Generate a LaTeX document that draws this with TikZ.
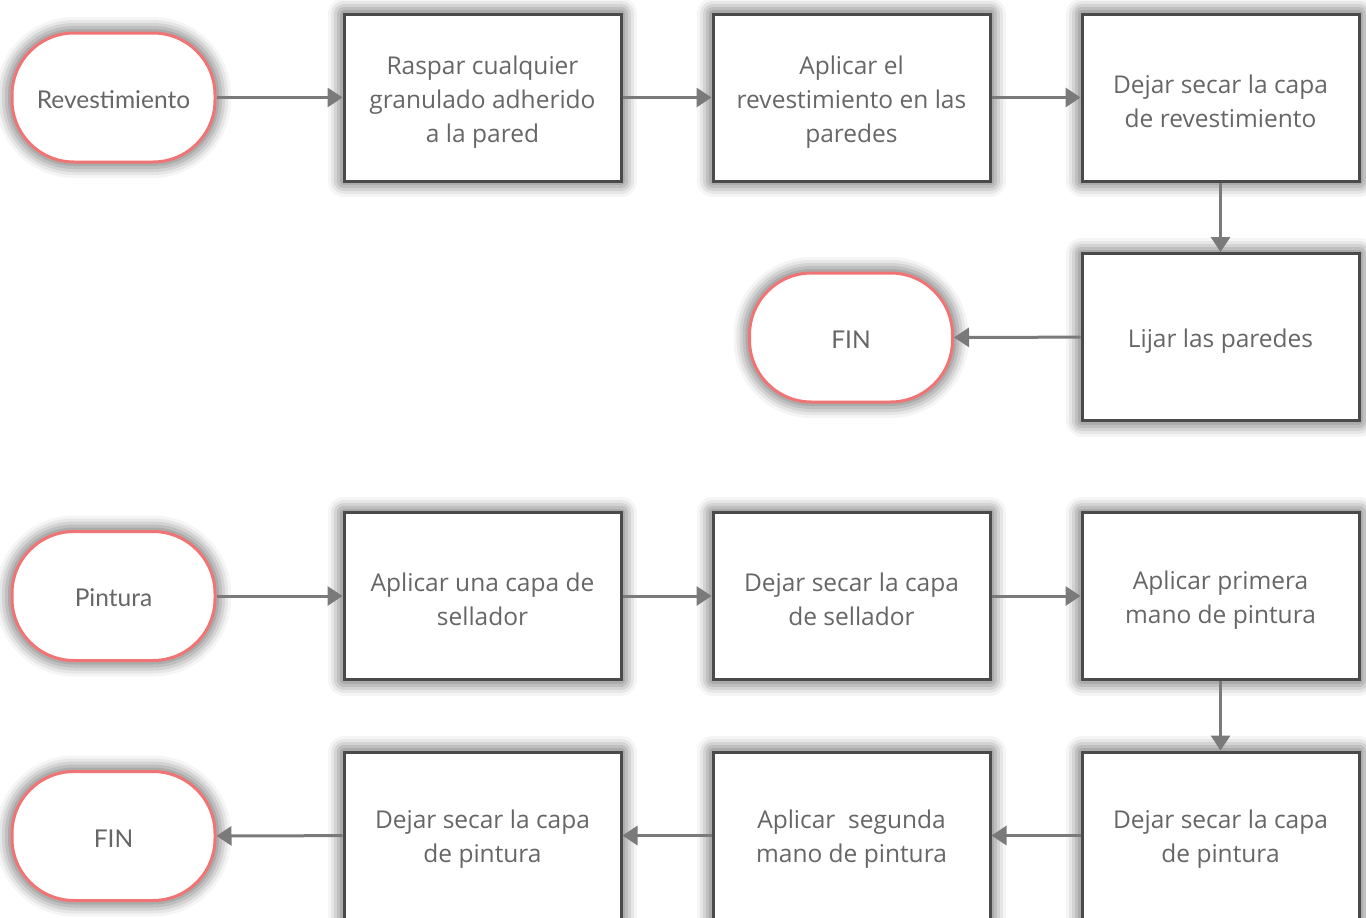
\documentclass[tikz,border=0pt]{standalone}
\usepackage{fontspec}
\setmainfont{Open Sans}
\newfontfamily\termfont{Lato}
\usetikzlibrary{arrows.meta}
\definecolor{boxline}{HTML}{4A4A4A}
\definecolor{termline}{HTML}{F07474}
\definecolor{txt}{HTML}{666666}
\definecolor{conn}{HTML}{7A7A7A}
\tikzset{
  softshadow/.style={
    preaction={draw=black, line width=32pt, opacity=0.04, line join=round},
    preaction={draw=black, line width=26pt, opacity=0.06, line join=round},
    preaction={draw=black, line width=20pt, opacity=0.08, line join=round},
    preaction={draw=black, line width=14pt, opacity=0.09, line join=round},
    preaction={draw=black, line width=8pt, opacity=0.10, line join=round}},
  % an invisible strut beside the text block raises its top edge,
  % so the lines sit slightly below the middle of the box
  stepbox/.style={softshadow, draw=boxline, fill=white, line width=3pt,
    minimum width=277pt, minimum height=167pt, inner sep=0pt,
    align=center, text=txt, font=\fontsize{24.5pt}{34pt}\selectfont,
    execute at begin node={\vrule width 0pt height #1}},
  stepbox/.default=60pt,
  threelines/.style={stepbox=95pt},
  oneline/.style={stepbox=27.5pt},
  terminal/.style={softshadow, draw=termline, fill=white, line width=3pt,
    rounded corners=62pt, minimum width=203pt, minimum height=129pt,
    inner sep=0pt, align=center, text=txt,
    font=\termfont\fontsize{24.5pt}{30pt}\selectfont,
    execute at begin node={\vrule width 0pt height 22pt}},
  flow/.style={draw=conn, line width=3pt,
    -{Triangle[length=15pt,width=19pt]}}
}
\begin{document}
\begin{tikzpicture}[x=1pt,y=-1pt]
\useasboundingbox (0,0) rectangle (1366,918);
\clip (0,0) rectangle (1366,918);
\fill[white] (0,0) rectangle (1366,918);

% Revestimiento branch
\node[terminal] (rev) at (113.5,97.5) {Revestimiento};
\node[threelines] (raspar) at (482.5,97.5) {Raspar cualquier\\granulado adherido\\a la pared};
\node[threelines] (aplrev) at (851.5,97.5) {Aplicar el\\revestimiento en las\\paredes};
\node[stepbox] (secrev) at (1220.5,97.5) {Dejar secar la capa\\de revestimiento};
\node[oneline] (lijar) at (1220.5,337) {Lijar las paredes};
\node[terminal] (fin1) at (851,337.5) {FIN};

\draw[flow] (rev) -- (raspar);
\draw[flow] (raspar) -- (aplrev);
\draw[flow] (aplrev) -- (secrev);
\draw[flow] (secrev) -- (lijar);
\draw[flow] (lijar) -- (fin1);

% Pintura branch
\node[terminal] (pint) at (113.5,596) {Pintura};
\node[stepbox] (sell) at (482.5,596) {Aplicar una capa de\\sellador};
\node[stepbox] (secsell) at (851.5,596) {Dejar secar la capa\\de sellador};
\node[stepbox] (mano1) at (1220.5,596) {Aplicar primera\\mano de pintura};
\node[stepbox] (secp1) at (1220.5,835.5) {Dejar secar la capa\\de pintura};
\node[stepbox] (mano2) at (851.5,835.5) {Aplicar\ \ segunda\\mano de pintura};
\node[stepbox] (secp2) at (482.5,835.5) {Dejar secar la capa\\de pintura};
\node[terminal] (fin2) at (113.5,836) {FIN};

\draw[flow] (pint) -- (sell);
\draw[flow] (sell) -- (secsell);
\draw[flow] (secsell) -- (mano1);
\draw[flow] (mano1) -- (secp1);
\draw[flow] (secp1) -- (mano2);
\draw[flow] (mano2) -- (secp2);
\draw[flow] (secp2) -- (fin2);
\end{tikzpicture}
\end{document}
